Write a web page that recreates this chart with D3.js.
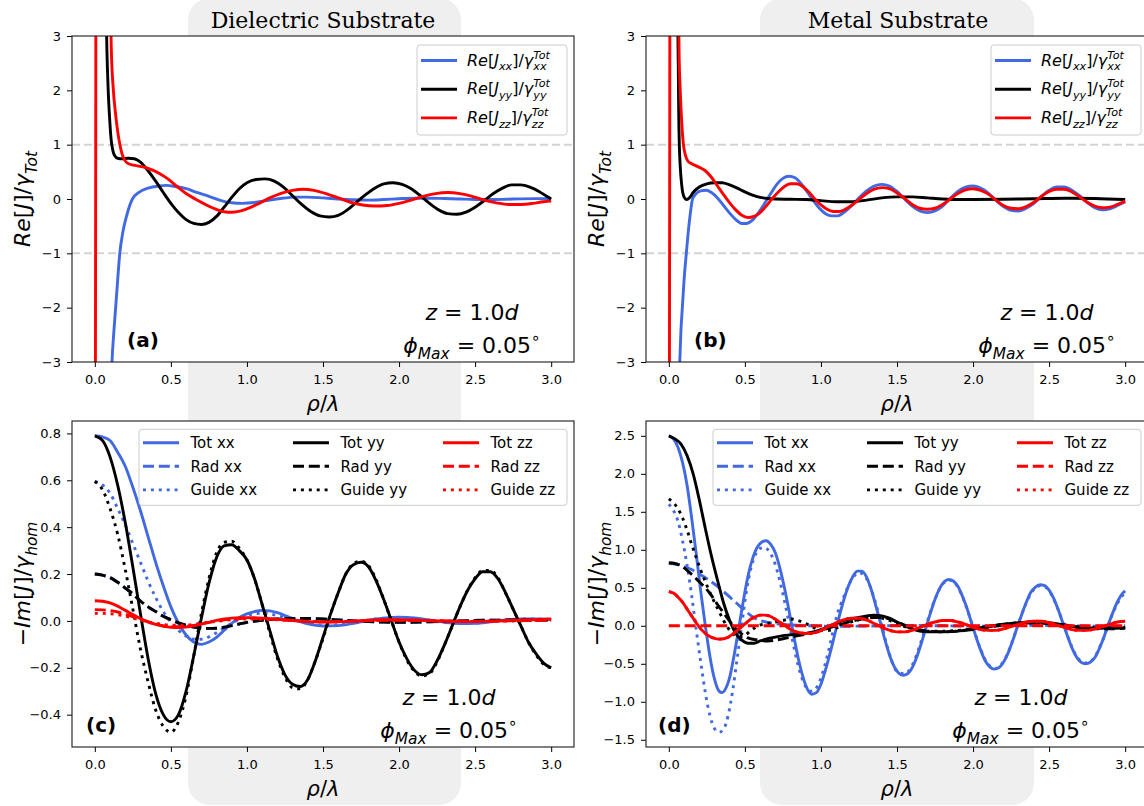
<!DOCTYPE html>
<html lang="en">
<head>
<meta charset="UTF-8">
<script src="https://cdnjs.cloudflare.com/ajax/libs/d3/7.8.5/d3.min.js"></script>
<title>Re / Im of J near a substrate</title>
<style>
  body { margin: 0; background: #fff; }
  svg text { font-family: 'DejaVu Sans', sans-serif; }
  svg text.title { font-family: 'DejaVu Serif', serif; }
</style>
</head>
<body>
<svg id="chart" width="1144" height="806"></svg>
<script>
// ---- ticks ----
const xTicks = [0, 0.5, 1, 1.5, 2, 2.5, 3];
const yTicksRe = [-3, -2, -1, 0, 1, 2, 3];
const yTicksDiel = [-0.4, -0.2, 0, 0.2, 0.4, 0.6, 0.8];
const yTicksMetal = [-1.5, -1, -0.5, 0, 0.5, 1, 1.5, 2, 2.5];
const refLevels = [-1, 1];

// ---- (a) dielectric, Re[J]/gamma_Tot ----
const a_xx = [[0.108,-3.4],[0.113,-3.0],[0.125,-2.45],[0.137,-2.0],[0.15,-1.5],[0.164,-1.0],[0.185,-0.6],[0.21,-0.3],[0.247,0.0],[0.29,0.12],[0.35,0.2],[0.42,0.24],[0.47,0.25],[0.53,0.23],[0.6,0.19],[0.67,0.12],[0.75,0.05],[0.83,-0.03],[0.9,-0.07],[0.97,-0.08],[1.05,-0.065],[1.13,-0.03],[1.22,0.01],[1.32,0.035],[1.4,0.035],[1.5,0.02],[1.6,0.0],[1.7,-0.015],[1.8,-0.02],[1.9,-0.01],[2.0,0.005],[2.1,0.015],[2.2,0.015],[2.3,0.008],[2.4,0.0],[2.5,-0.008],[2.6,-0.01],[2.7,-0.005],[2.8,0.003],[2.9,0.006],[3.0,0.004]];
const a_yy = [[0.075,3.4],[0.079,2.8],[0.088,2.0],[0.097,1.5],[0.107,1.1],[0.118,0.9],[0.13,0.8],[0.15,0.75],[0.18,0.74],[0.22,0.75],[0.26,0.74],[0.3,0.68],[0.35,0.52],[0.4,0.33],[0.45,0.12],[0.5,-0.08],[0.55,-0.25],[0.6,-0.38],[0.65,-0.45],[0.7,-0.47],[0.75,-0.43],[0.8,-0.32],[0.85,-0.15],[0.9,0.03],[0.95,0.19],[1.0,0.3],[1.06,0.36],[1.12,0.37],[1.18,0.33],[1.24,0.22],[1.3,0.06],[1.36,-0.1],[1.42,-0.23],[1.48,-0.31],[1.54,-0.33],[1.6,-0.3],[1.66,-0.2],[1.72,-0.06],[1.78,0.08],[1.84,0.2],[1.9,0.28],[1.96,0.3],[2.02,0.27],[2.08,0.19],[2.14,0.06],[2.2,-0.08],[2.26,-0.2],[2.32,-0.27],[2.38,-0.28],[2.44,-0.24],[2.5,-0.15],[2.56,-0.03],[2.62,0.1],[2.68,0.2],[2.74,0.26],[2.8,0.26],[2.86,0.22],[2.92,0.14],[2.97,0.05],[3.0,0.0]];
const a_zz = [[0.004,-3.4],[0.005,-1.0],[0.006,1.0],[0.007,3.4],[0.104,3.4],[0.108,2.8],[0.122,2.0],[0.135,1.6],[0.15,1.25],[0.165,1.0],[0.18,0.82],[0.2,0.7],[0.23,0.64],[0.28,0.61],[0.33,0.58],[0.38,0.53],[0.43,0.46],[0.48,0.37],[0.54,0.23],[0.6,0.1],[0.66,0.0],[0.72,-0.09],[0.78,-0.17],[0.85,-0.235],[0.9,-0.245],[0.96,-0.22],[1.02,-0.16],[1.08,-0.08],[1.15,0.02],[1.22,0.1],[1.3,0.16],[1.37,0.18],[1.44,0.16],[1.52,0.1],[1.6,0.02],[1.68,-0.06],[1.76,-0.11],[1.84,-0.13],[1.92,-0.12],[2.0,-0.08],[2.08,-0.02],[2.16,0.05],[2.24,0.1],[2.32,0.12],[2.4,0.1],[2.48,0.05],[2.56,-0.02],[2.64,-0.07],[2.72,-0.1],[2.8,-0.1],[2.88,-0.08],[2.95,-0.05],[3.0,-0.04]];

// ---- (b) metal, Re[J]/gamma_Tot ----
const b_xx = [[0.066,-3.4],[0.072,-3.0],[0.08,-2.4],[0.089,-2.0],[0.1,-1.5],[0.115,-1.0],[0.128,-0.6],[0.14,-0.3],[0.156,0.0],[0.18,0.1],[0.21,0.15],[0.245,0.16],[0.28,0.12],[0.32,0.02],[0.36,-0.12],[0.4,-0.26],[0.44,-0.38],[0.48,-0.45],[0.51,-0.45],[0.55,-0.39],[0.59,-0.25],[0.63,-0.08],[0.67,0.1],[0.71,0.27],[0.75,0.38],[0.79,0.42],[0.83,0.39],[0.87,0.28],[0.91,0.13],[0.95,-0.03],[0.99,-0.17],[1.03,-0.27],[1.07,-0.31],[1.11,-0.31],[1.15,-0.25],[1.2,-0.13],[1.25,0.02],[1.3,0.15],[1.35,0.24],[1.4,0.27],[1.45,0.24],[1.5,0.14],[1.55,0.0],[1.6,-0.13],[1.65,-0.22],[1.7,-0.25],[1.75,-0.22],[1.8,-0.13],[1.85,0.01],[1.9,0.14],[1.95,0.22],[2.0,0.24],[2.05,0.2],[2.1,0.11],[2.15,-0.02],[2.2,-0.14],[2.25,-0.21],[2.3,-0.22],[2.35,-0.17],[2.4,-0.08],[2.45,0.05],[2.5,0.16],[2.55,0.22],[2.6,0.22],[2.65,0.16],[2.7,0.06],[2.75,-0.06],[2.8,-0.16],[2.85,-0.2],[2.9,-0.18],[2.95,-0.12],[3.0,-0.05]];
const b_yy = [[0.058,3.4],[0.062,2.5],[0.065,1.6],[0.069,1.0],[0.075,0.6],[0.085,0.25],[0.1,0.04],[0.118,-0.01],[0.135,0.02],[0.16,0.12],[0.2,0.22],[0.25,0.28],[0.3,0.3],[0.35,0.3],[0.4,0.26],[0.45,0.2],[0.5,0.13],[0.55,0.07],[0.6,0.03],[0.65,0.01],[0.7,0.0],[0.8,-0.005],[0.9,-0.01],[1.0,-0.03],[1.1,-0.05],[1.2,-0.05],[1.3,-0.02],[1.4,0.02],[1.5,0.04],[1.6,0.04],[1.7,0.02],[1.8,0.0],[1.9,-0.01],[2.0,-0.01],[2.2,-0.005],[2.4,0.005],[2.6,0.015],[2.8,0.01],[3.0,-0.01]];
const b_zz = [[0.004,-3.4],[0.005,-1.0],[0.006,1.0],[0.007,3.4],[0.064,3.4],[0.068,2.6],[0.075,2.0],[0.085,1.4],[0.096,1.0],[0.11,0.8],[0.125,0.7],[0.15,0.65],[0.18,0.61],[0.21,0.57],[0.24,0.52],[0.28,0.4],[0.32,0.24],[0.36,0.08],[0.4,-0.07],[0.44,-0.2],[0.48,-0.3],[0.52,-0.34],[0.56,-0.32],[0.6,-0.25],[0.64,-0.13],[0.68,0.01],[0.72,0.13],[0.76,0.23],[0.8,0.28],[0.84,0.28],[0.88,0.23],[0.92,0.13],[0.96,0.0],[1.0,-0.11],[1.04,-0.19],[1.08,-0.23],[1.12,-0.23],[1.16,-0.19],[1.2,-0.12],[1.25,-0.01],[1.3,0.1],[1.35,0.18],[1.4,0.21],[1.45,0.19],[1.5,0.11],[1.55,0.01],[1.6,-0.1],[1.65,-0.17],[1.7,-0.19],[1.75,-0.17],[1.8,-0.1],[1.85,0.0],[1.9,0.1],[1.95,0.17],[2.0,0.19],[2.05,0.16],[2.1,0.09],[2.15,-0.02],[2.2,-0.12],[2.25,-0.17],[2.3,-0.18],[2.35,-0.14],[2.4,-0.06],[2.45,0.05],[2.5,0.14],[2.55,0.18],[2.6,0.18],[2.65,0.13],[2.7,0.04],[2.75,-0.06],[2.8,-0.13],[2.85,-0.16],[2.9,-0.15],[2.95,-0.1],[3.0,-0.04]];

// ---- (c) dielectric, -Im[J]/gamma_hom ----
const c_xx_tot = [[0,0.79],[0.05,0.785],[0.1,0.77],[0.15,0.72],[0.2,0.66],[0.25,0.57],[0.3,0.47],[0.35,0.36],[0.4,0.25],[0.45,0.15],[0.5,0.06],[0.55,-0.01],[0.6,-0.06],[0.65,-0.09],[0.7,-0.1],[0.75,-0.09],[0.8,-0.07],[0.85,-0.04],[0.9,-0.01],[0.95,0.015],[1.0,0.03],[1.05,0.04],[1.1,0.045],[1.15,0.043],[1.2,0.035],[1.25,0.023],[1.3,0.01],[1.35,-0.003],[1.4,-0.013],[1.5,-0.022],[1.6,-0.02],[1.7,-0.01],[1.8,0.003],[1.9,0.012],[2.0,0.016],[2.1,0.013],[2.2,0.004],[2.3,-0.006],[2.4,-0.011],[2.5,-0.01],[2.6,-0.004],[2.7,0.004],[2.8,0.008],[2.9,0.008],[3.0,0.006]];
const c_yy_rad = [[0,0.2],[0.05,0.195],[0.1,0.185],[0.15,0.165],[0.2,0.14],[0.25,0.115],[0.3,0.085],[0.35,0.06],[0.4,0.04],[0.45,0.02],[0.5,0.005],[0.55,-0.008],[0.6,-0.018],[0.65,-0.026],[0.7,-0.03],[0.75,-0.032],[0.8,-0.031],[0.85,-0.027],[0.9,-0.02],[0.95,-0.013],[1.0,-0.006],[1.1,0.003],[1.2,0.008],[1.3,0.01],[1.4,0.01],[1.5,0.008],[1.6,0.004],[1.7,0.0],[1.8,-0.003],[1.9,-0.005],[2.0,-0.006],[2.2,-0.004],[2.4,0.0],[2.6,0.003],[2.8,0.004],[3.0,0.003]];
const c_xx_rad = c_yy_rad; // the two in-plane radiative parts lie on top of each other
const c_xx_guide = [[0,0.595],[0.05,0.58],[0.1,0.545],[0.15,0.48],[0.2,0.41],[0.25,0.33],[0.3,0.25],[0.35,0.17],[0.4,0.1],[0.45,0.04],[0.5,-0.005],[0.55,-0.04],[0.6,-0.065],[0.65,-0.078],[0.7,-0.078],[0.75,-0.068],[0.8,-0.05],[0.85,-0.03],[0.9,-0.01],[0.95,0.008],[1.0,0.022],[1.05,0.03],[1.1,0.033],[1.15,0.03],[1.2,0.022],[1.3,0.005],[1.4,-0.01],[1.5,-0.018],[1.6,-0.016],[1.7,-0.007],[1.8,0.004],[1.9,0.012],[2.0,0.015],[2.1,0.011],[2.2,0.002],[2.3,-0.007],[2.4,-0.011],[2.5,-0.009],[2.6,-0.003],[2.7,0.004],[2.8,0.008],[2.9,0.008],[3.0,0.006]];
const c_yy_tot = [[0,0.79],[0.05,0.77],[0.1,0.7],[0.15,0.58],[0.2,0.42],[0.25,0.23],[0.3,0.03],[0.35,-0.16],[0.4,-0.31],[0.45,-0.4],[0.5,-0.43],[0.55,-0.4],[0.6,-0.3],[0.65,-0.15],[0.7,0.01],[0.75,0.16],[0.8,0.27],[0.85,0.32],[0.9,0.325],[0.95,0.3],[1.0,0.26],[1.05,0.18],[1.1,0.07],[1.15,-0.04],[1.2,-0.15],[1.25,-0.23],[1.3,-0.27],[1.35,-0.28],[1.4,-0.25],[1.45,-0.17],[1.5,-0.07],[1.55,0.03],[1.6,0.12],[1.65,0.2],[1.7,0.24],[1.75,0.25],[1.8,0.23],[1.85,0.17],[1.9,0.09],[1.95,0.0],[2.0,-0.09],[2.05,-0.16],[2.1,-0.21],[2.15,-0.23],[2.2,-0.22],[2.25,-0.17],[2.3,-0.1],[2.35,-0.02],[2.4,0.06],[2.45,0.13],[2.5,0.18],[2.55,0.21],[2.6,0.21],[2.65,0.18],[2.7,0.12],[2.75,0.05],[2.8,-0.02],[2.85,-0.09],[2.9,-0.14],[2.95,-0.18],[3.0,-0.2]];
const c_yy_guide = [[0,0.595],[0.05,0.56],[0.1,0.48],[0.15,0.37],[0.2,0.22],[0.25,0.05],[0.3,-0.12],[0.35,-0.26],[0.4,-0.38],[0.45,-0.45],[0.5,-0.475],[0.55,-0.43],[0.6,-0.32],[0.65,-0.15],[0.7,0.03],[0.75,0.18],[0.8,0.29],[0.85,0.335],[0.9,0.34],[0.95,0.31],[1.0,0.26],[1.05,0.18],[1.1,0.07],[1.15,-0.05],[1.2,-0.16],[1.25,-0.24],[1.3,-0.285],[1.35,-0.29],[1.4,-0.25],[1.45,-0.17],[1.5,-0.075],[1.55,0.03],[1.6,0.12],[1.65,0.2],[1.7,0.245],[1.75,0.255],[1.8,0.235],[1.85,0.175],[1.9,0.09],[1.95,0.0],[2.0,-0.09],[2.05,-0.165],[2.1,-0.215],[2.15,-0.235],[2.2,-0.225],[2.25,-0.175],[2.3,-0.1],[2.35,-0.02],[2.4,0.06],[2.45,0.13],[2.5,0.185],[2.55,0.215],[2.6,0.215],[2.65,0.185],[2.7,0.12],[2.75,0.05],[2.8,-0.02],[2.85,-0.09],[2.9,-0.145],[2.95,-0.185],[3.0,-0.2]];
const c_zz_tot = [[0,0.086],[0.05,0.084],[0.1,0.077],[0.15,0.063],[0.2,0.045],[0.25,0.027],[0.3,0.01],[0.35,-0.004],[0.4,-0.015],[0.45,-0.023],[0.5,-0.027],[0.55,-0.028],[0.6,-0.026],[0.65,-0.021],[0.7,-0.014],[0.75,-0.006],[0.8,0.002],[0.85,0.008],[0.9,0.012],[0.95,0.014],[1.0,0.014],[1.1,0.012],[1.2,0.007],[1.3,0.002],[1.4,-0.003],[1.5,-0.005],[1.6,-0.004],[1.7,-0.001],[1.8,0.003],[1.9,0.005],[2.0,0.005],[2.2,0.001],[2.4,-0.003],[2.6,-0.001],[2.8,0.004],[3.0,0.008]];
const c_zz_rad = [[0,0.048],[0.05,0.047],[0.1,0.044],[0.15,0.038],[0.2,0.029],[0.25,0.018],[0.3,0.007],[0.35,-0.004],[0.4,-0.013],[0.45,-0.02],[0.5,-0.024],[0.55,-0.025],[0.6,-0.023],[0.65,-0.019],[0.7,-0.013],[0.75,-0.006],[0.8,0.0],[0.9,0.008],[1.0,0.011],[1.1,0.01],[1.2,0.006],[1.3,0.002],[1.4,-0.002],[1.5,-0.004],[1.7,-0.001],[1.9,0.003],[2.1,0.003],[2.3,0.0],[2.5,-0.002],[2.7,0.0],[3.0,0.004]];
const c_zz_guide = [[0,0.032],[0.05,0.032],[0.1,0.031],[0.15,0.027],[0.2,0.02],[0.25,0.012],[0.3,0.004],[0.35,-0.004],[0.4,-0.01],[0.45,-0.015],[0.5,-0.018],[0.6,-0.018],[0.7,-0.01],[0.8,-0.002],[0.9,0.005],[1.0,0.008],[1.2,0.005],[1.4,-0.001],[1.6,-0.003],[1.8,0.001],[2.0,0.003],[2.3,0.0],[2.6,-0.001],[3.0,0.004]];

// ---- (d) metal, -Im[J]/gamma_hom ----
const d_xx_tot = [[0,2.5],[0.03,2.46],[0.06,2.35],[0.09,2.15],[0.12,1.85],[0.15,1.42],[0.18,0.95],[0.21,0.45],[0.24,0.0],[0.27,-0.4],[0.3,-0.7],[0.33,-0.86],[0.35,-0.88],[0.37,-0.84],[0.4,-0.68],[0.43,-0.38],[0.46,-0.03],[0.49,0.33],[0.52,0.65],[0.55,0.88],[0.58,1.03],[0.61,1.1],[0.64,1.12],[0.67,1.07],[0.7,0.96],[0.73,0.76],[0.76,0.5],[0.79,0.2],[0.82,-0.12],[0.85,-0.42],[0.88,-0.66],[0.91,-0.83],[0.94,-0.9],[0.97,-0.88],[1.0,-0.77],[1.03,-0.58],[1.06,-0.36],[1.09,-0.12],[1.12,0.12],[1.15,0.34],[1.18,0.52],[1.21,0.65],[1.24,0.72],[1.27,0.72],[1.3,0.64],[1.33,0.48],[1.36,0.27],[1.39,0.05],[1.42,-0.18],[1.45,-0.38],[1.48,-0.53],[1.51,-0.62],[1.54,-0.65],[1.57,-0.63],[1.6,-0.55],[1.63,-0.41],[1.66,-0.23],[1.69,-0.03],[1.72,0.17],[1.75,0.35],[1.78,0.49],[1.81,0.58],[1.84,0.61],[1.87,0.59],[1.9,0.52],[1.93,0.39],[1.96,0.23],[1.99,0.04],[2.02,-0.15],[2.05,-0.32],[2.08,-0.46],[2.11,-0.54],[2.14,-0.57],[2.17,-0.55],[2.2,-0.48],[2.23,-0.36],[2.26,-0.2],[2.29,-0.02],[2.32,0.15],[2.35,0.31],[2.38,0.44],[2.41,0.51],[2.44,0.54],[2.47,0.53],[2.5,0.47],[2.53,0.36],[2.56,0.21],[2.59,0.04],[2.62,-0.13],[2.65,-0.29],[2.68,-0.41],[2.71,-0.48],[2.74,-0.5],[2.77,-0.48],[2.8,-0.42],[2.83,-0.3],[2.86,-0.15],[2.89,0.02],[2.92,0.18],[2.95,0.32],[2.98,0.42],[3.0,0.46]];
const d_xx_rad = [[0,0.82],[0.05,0.81],[0.1,0.78],[0.15,0.74],[0.2,0.68],[0.25,0.62],[0.3,0.55],[0.35,0.47],[0.4,0.38],[0.45,0.29],[0.5,0.2],[0.55,0.12],[0.6,0.07],[0.65,0.045],[0.7,0.03],[0.8,0.012],[0.9,0.003],[1.0,-0.005],[1.2,-0.005],[1.4,0.0],[1.6,0.005],[1.8,0.0],[2.0,-0.005],[2.2,0.0],[2.4,0.005],[2.6,0.0],[2.8,-0.005],[3.0,0.0]];
const d_xx_guide = [[0,1.6],[0.03,1.52],[0.06,1.38],[0.09,1.12],[0.12,0.8],[0.15,0.4],[0.18,-0.05],[0.21,-0.48],[0.24,-0.88],[0.27,-1.18],[0.3,-1.35],[0.33,-1.4],[0.36,-1.36],[0.39,-1.18],[0.42,-0.85],[0.45,-0.42],[0.48,0.02],[0.51,0.45],[0.54,0.76],[0.57,0.94],[0.6,1.02],[0.63,1.03],[0.66,0.98],[0.69,0.86],[0.72,0.67],[0.75,0.42],[0.78,0.14],[0.81,-0.16],[0.84,-0.44],[0.87,-0.66],[0.9,-0.8],[0.93,-0.86],[0.96,-0.84],[0.99,-0.74],[1.02,-0.56],[1.05,-0.33],[1.08,-0.07],[1.1,0.1],[1.15,0.38],[1.2,0.6],[1.25,0.7],[1.3,0.62],[1.35,0.36],[1.4,0.0],[1.45,-0.37],[1.5,-0.6],[1.55,-0.63],[1.6,-0.52],[1.65,-0.26],[1.7,0.06],[1.75,0.35],[1.8,0.55],[1.85,0.6],[1.9,0.51],[1.95,0.28],[2.0,-0.02],[2.05,-0.31],[2.1,-0.51],[2.15,-0.56],[2.2,-0.47],[2.25,-0.25],[2.3,0.04],[2.35,0.3],[2.4,0.48],[2.45,0.53],[2.5,0.46],[2.55,0.26],[2.6,-0.01],[2.65,-0.28],[2.7,-0.45],[2.75,-0.49],[2.8,-0.41],[2.85,-0.2],[2.9,0.07],[2.95,0.3],[3.0,0.44]];
const d_yy_tot = [[0,2.5],[0.04,2.46],[0.08,2.39],[0.12,2.24],[0.16,2.0],[0.2,1.66],[0.24,1.28],[0.28,0.92],[0.32,0.6],[0.36,0.3],[0.4,0.07],[0.44,-0.1],[0.48,-0.19],[0.52,-0.23],[0.56,-0.23],[0.6,-0.2],[0.65,-0.17],[0.7,-0.15],[0.75,-0.13],[0.8,-0.12],[0.85,-0.11],[0.9,-0.1],[0.95,-0.08],[1.0,-0.05],[1.05,-0.01],[1.1,0.03],[1.15,0.07],[1.2,0.09],[1.25,0.11],[1.3,0.13],[1.35,0.14],[1.4,0.13],[1.45,0.1],[1.5,0.05],[1.55,0.0],[1.6,-0.04],[1.65,-0.07],[1.7,-0.08],[1.8,-0.08],[1.9,-0.07],[2.0,-0.04],[2.1,-0.01],[2.2,0.02],[2.3,0.04],[2.4,0.05],[2.5,0.04],[2.6,0.01],[2.7,-0.02],[2.8,-0.03],[2.9,-0.03],[3.0,-0.03]];
const d_yy_rad = [[0,0.83],[0.04,0.82],[0.08,0.79],[0.12,0.73],[0.16,0.66],[0.2,0.58],[0.24,0.5],[0.28,0.4],[0.32,0.28],[0.36,0.17],[0.4,0.06],[0.44,-0.04],[0.48,-0.11],[0.52,-0.16],[0.56,-0.18],[0.6,-0.19],[0.65,-0.2],[0.7,-0.19],[0.75,-0.17],[0.8,-0.15],[0.85,-0.13],[0.9,-0.11],[0.95,-0.09],[1.0,-0.06],[1.05,-0.03],[1.1,0.0],[1.15,0.03],[1.2,0.06],[1.25,0.08],[1.3,0.1],[1.35,0.11],[1.4,0.11],[1.45,0.09],[1.5,0.05],[1.55,0.01],[1.6,-0.03],[1.7,-0.07],[1.8,-0.08],[1.9,-0.07],[2.0,-0.05],[2.1,-0.02],[2.2,0.01],[2.3,0.03],[2.4,0.04],[2.5,0.03],[2.6,0.01],[2.7,-0.02],[2.8,-0.04],[2.9,-0.04],[3.0,-0.03]];
const d_yy_guide = [[0,1.67],[0.03,1.62],[0.06,1.54],[0.09,1.42],[0.12,1.26],[0.15,1.07],[0.18,0.9],[0.21,0.73],[0.24,0.58],[0.27,0.44],[0.3,0.31],[0.33,0.19],[0.36,0.07],[0.39,-0.03],[0.42,-0.1],[0.45,-0.14],[0.48,-0.14],[0.51,-0.11],[0.54,-0.06],[0.57,-0.02],[0.6,0.01],[0.65,0.03],[0.7,0.05],[0.75,0.07],[0.8,0.09],[0.85,0.07],[0.9,0.03],[0.95,-0.02],[1.0,-0.06],[1.05,-0.06],[1.1,-0.03],[1.15,0.01],[1.2,0.05],[1.25,0.08],[1.3,0.1],[1.35,0.11],[1.4,0.1],[1.45,0.07],[1.5,0.03],[1.55,-0.01],[1.6,-0.04],[1.7,-0.07],[1.8,-0.07],[1.9,-0.06],[2.0,-0.04],[2.1,-0.01],[2.2,0.02],[2.3,0.04],[2.4,0.04],[2.5,0.03],[2.6,0.0],[2.7,-0.02],[2.8,-0.03],[2.9,-0.03],[3.0,-0.02]];
const d_zz_tot = [[0,0.45],[0.03,0.43],[0.06,0.38],[0.09,0.31],[0.12,0.22],[0.15,0.13],[0.18,0.04],[0.21,-0.04],[0.24,-0.1],[0.27,-0.14],[0.3,-0.165],[0.33,-0.175],[0.36,-0.17],[0.39,-0.15],[0.42,-0.11],[0.45,-0.06],[0.48,-0.01],[0.51,0.04],[0.54,0.09],[0.57,0.12],[0.6,0.14],[0.63,0.14],[0.66,0.13],[0.69,0.1],[0.72,0.06],[0.75,0.02],[0.78,-0.02],[0.81,-0.06],[0.84,-0.08],[0.87,-0.095],[0.9,-0.1],[0.93,-0.1],[0.96,-0.09],[0.99,-0.07],[1.02,-0.04],[1.05,-0.01],[1.08,0.02],[1.11,0.05],[1.14,0.07],[1.17,0.09],[1.2,0.1],[1.23,0.1],[1.26,0.1],[1.29,0.08],[1.32,0.06],[1.35,0.03],[1.38,0.0],[1.41,-0.03],[1.44,-0.05],[1.47,-0.07],[1.5,-0.08],[1.55,-0.08],[1.6,-0.06],[1.65,-0.02],[1.7,0.02],[1.75,0.05],[1.8,0.07],[1.85,0.07],[1.9,0.05],[1.95,0.02],[2.0,-0.02],[2.05,-0.05],[2.1,-0.06],[2.15,-0.06],[2.2,-0.04],[2.25,-0.01],[2.3,0.02],[2.35,0.05],[2.4,0.06],[2.45,0.06],[2.5,0.04],[2.55,0.01],[2.6,-0.02],[2.65,-0.05],[2.7,-0.06],[2.75,-0.06],[2.8,-0.04],[2.85,-0.01],[2.9,0.02],[2.95,0.05],[3.0,0.06]];
const d_zz_rad = [[0,0],[0.5,0],[1,0],[1.5,0],[2,0],[2.5,0],[3,0]];
const d_zz_guide = d_zz_tot; // radiative zz part is zero, guided part equals the total

// ---- styling ----
const BLUE = '#4169e1', BLACK = '#000000', RED = '#ff0000';
const DASH = { solid: null, dashed: '11,4.8', dotted: '3,4.9' };
const LW = 2.9;
const W = 502, H = 326;
const xDomain = [-0.15, 3.15];

const svg = d3.select('#chart');

// pale rounded columns behind each figure column
[[188, 461], [760, 1034]].forEach(([x0, x1]) => {
  svg.append('rect').attr('x', x0).attr('y', -2).attr('width', x1 - x0).attr('height', 807)
    .attr('rx', 22).attr('fill', '#efefef');
});

// text with italic parts, sub- and superscripts
function mathText(parent, x, y, parts, size, anchor) {
  const t = parent.append('text').attr('x', x).attr('y', y)
    .attr('font-size', size).attr('text-anchor', anchor || 'start').attr('fill', '#000');
  let shift = 0, lastW = 0;
  parts.forEach(p => {
    const small = p.sub || p.sup;
    const off = p.sub ? size * 0.3 : p.sup ? -size * 0.42 : 0;
    const ts = t.append('tspan').text(p.t)
      .attr('font-size', small ? size * 0.7 : size)
      .attr('font-style', p.i ? 'italic' : 'normal')
      .attr('dy', off - shift);
    if (p.back) ts.attr('dx', -lastW);
    shift = off;
    lastW = ts.node().getComputedTextLength();
  });
  return t;
}

const reLabel = s => [{t:'Re', i:1}, {t:'['}, {t:'J', i:1}, {t:s, i:1, sub:1}, {t:']/'}, {t:'γ', i:1}, {t:'Tot', i:1, sup:1}, {t:s, i:1, sub:1, back:1}];
const reAxis = [{t:'Re', i:1}, {t:'['}, {t:'J', i:1}, {t:']/'}, {t:'γ', i:1}, {t:'Tot', i:1, sub:1}];
const imAxis = [{t:'−'}, {t:'Im', i:1}, {t:'['}, {t:'J', i:1}, {t:']/'}, {t:'γ', i:1}, {t:'hom', i:1, sub:1}];
const xAxisLabel = [{t:'ρ', i:1}, {t:'/'}, {t:'λ', i:1}];
const noteZ = [{t:'z', i:1}, {t:' = 1.0'}, {t:'d', i:1}];
const notePhi = [{t:'ϕ', i:1}, {t:'Max', i:1, sub:1}, {t:' = 0.05'}, {t:'∘', sup:1}];

const topSeries = (xx, yy, zz) => [
  {data: xx, color: BLUE, style: 'solid', label: reLabel('xx')},
  {data: yy, color: BLACK, style: 'solid', label: reLabel('yy')},
  {data: zz, color: RED, style: 'solid', label: reLabel('zz')}
];
const botSeries = (s) => [
  {data: s.xt, color: BLUE, style: 'solid', label: 'Tot xx'},
  {data: s.xr, color: BLUE, style: 'dashed', label: 'Rad xx'},
  {data: s.xg, color: BLUE, style: 'dotted', label: 'Guide xx'},
  {data: s.yt, color: BLACK, style: 'solid', label: 'Tot yy'},
  {data: s.yr, color: BLACK, style: 'dashed', label: 'Rad yy'},
  {data: s.yg, color: BLACK, style: 'dotted', label: 'Guide yy'},
  {data: s.zt, color: RED, style: 'solid', label: 'Tot zz'},
  {data: s.zr, color: RED, style: 'dashed', label: 'Rad zz'},
  {data: s.zg, color: RED, style: 'dotted', label: 'Guide zz'}
];

const panels = [
  {id: 'a', left: 72, top: 36, yDomain: [-3, 3], yTicks: yTicksRe, yFmt: d3.format('d'), refs: refLevels,
   yLabel: reAxis, series: topSeries(a_xx, a_yy, a_zz), legend: 'top', noteX: 400, tagX: 55, tag: '(a)'},
  {id: 'b', left: 646, top: 36, yDomain: [-3, 3], yTicks: yTicksRe, yFmt: d3.format('d'), refs: refLevels,
   yLabel: reAxis, series: topSeries(b_xx, b_yy, b_zz), legend: 'top', noteX: 401, tagX: 48, tag: '(b)'},
  {id: 'c', left: 72, top: 421, yDomain: [-0.538, 0.853], yTicks: yTicksDiel, yFmt: d3.format('.1f'), refs: [],
   yLabel: imAxis, legend: 'bottom', noteX: 377, tagX: 14, tag: '(c)',
   series: botSeries({xt: c_xx_tot, xr: c_xx_rad, xg: c_xx_guide, yt: c_yy_tot, yr: c_yy_rad, yg: c_yy_guide, zt: c_zz_tot, zr: c_zz_rad, zg: c_zz_guide})},
  {id: 'd', left: 646, top: 421, yDomain: [-1.595, 2.695], yTicks: yTicksMetal, yFmt: d3.format('.1f'), refs: [],
   yLabel: imAxis, legend: 'bottom', noteX: 375, tagX: 12, tag: '(d)',
   series: botSeries({xt: d_xx_tot, xr: d_xx_rad, xg: d_xx_guide, yt: d_yy_tot, yr: d_yy_rad, yg: d_yy_guide, zt: d_zz_tot, zr: d_zz_rad, zg: d_zz_guide})}
];

function legendSample(g, x0, yc, s) {
  g.append('line').attr('x1', x0).attr('x2', x0 + 36).attr('y1', yc).attr('y2', yc)
    .attr('stroke', s.color).attr('stroke-width', LW).attr('stroke-dasharray', DASH[s.style]);
}

function drawPanel(p) {
  const g = svg.append('g').attr('transform', `translate(${p.left},${p.top})`);
  const x = d3.scaleLinear().domain(xDomain).range([0, W]);
  const y = d3.scaleLinear().domain(p.yDomain).range([H, 0]);

  g.append('rect').attr('width', W).attr('height', H).attr('fill', '#fff');
  g.append('clipPath').attr('id', 'clip-' + p.id).append('rect').attr('width', W).attr('height', H);
  const plot = g.append('g').attr('clip-path', `url(#clip-${p.id})`);

  p.refs.forEach(v => {
    plot.append('line').attr('x1', 0).attr('x2', W).attr('y1', y(v)).attr('y2', y(v))
      .attr('stroke', '#d3d3d3').attr('stroke-width', 2).attr('stroke-dasharray', '8,4');
  });

  const line = d3.line().x(d => x(d[0])).y(d => y(d[1])).curve(d3.curveMonotoneX);
  p.series.forEach(s => {
    plot.append('path').attr('d', line(s.data)).attr('fill', 'none')
      .attr('stroke', s.color).attr('stroke-width', LW)
      .attr('stroke-dasharray', DASH[s.style]);
  });

  // axes
  const xa = g.append('g').attr('transform', `translate(0,${H})`)
    .call(d3.axisBottom(x).tickValues(xTicks).tickFormat(d3.format('.1f')).tickSize(5).tickPadding(8));
  const ya = g.append('g')
    .call(d3.axisLeft(y).tickValues(p.yTicks).tickFormat(p.yFmt).tickSize(5).tickPadding(6));
  [xa, ya].forEach(a => {
    a.select('.domain').remove();
    a.selectAll('text').attr('font-size', 13).attr('fill', '#000');
    a.selectAll('line').attr('stroke', '#000');
  });
  g.append('rect').attr('width', W).attr('height', H).attr('fill', 'none')
    .attr('stroke', '#1a1a1a').attr('stroke-width', 1.1);

  // axis labels
  mathText(g, W / 2, H + 49, xAxisLabel, 21, 'middle');
  const yl = g.append('g').attr('transform', `translate(-42,${H / 2}) rotate(-90)`);
  mathText(yl, 0, 0, p.yLabel, 22, 'middle');

  // annotations
  mathText(g, p.noteX, H - 42, noteZ, 22, 'middle');
  mathText(g, p.noteX, H - 9.5, notePhi, 22, 'middle');
  g.append('text').attr('x', p.tagX).attr('y', H - 15).attr('font-size', 20)
    .attr('font-weight', 'bold').text(p.tag);

  // legend
  const lg = g.append('g');
  if (p.legend === 'top') {
    const bx = W - 7 - 150, by = 9;
    lg.append('rect').attr('x', bx).attr('y', by).attr('width', 150).attr('height', 90).attr('rx', 3)
      .attr('fill', '#fff').attr('fill-opacity', 0.8).attr('stroke', '#cccccc');
    p.series.forEach((s, i) => {
      const yc = by + 15.5 + i * 28.7;
      legendSample(lg, bx + 4, yc, s);
      mathText(lg, bx + 50, yc + 5, s.label, 16, 'start');
    });
  } else {
    const bw = 428, bx = W - 7 - bw, by = 8.3;
    lg.append('rect').attr('x', bx).attr('y', by).attr('width', bw).attr('height', 76).attr('rx', 3)
      .attr('fill', '#fff').attr('fill-opacity', 0.8).attr('stroke', '#cccccc');
    p.series.forEach((s, i) => {
      const col = Math.floor(i / 3), row = i % 3;
      const x0 = bx + 4 + col * 150, yc = by + 13.4 + row * 23.6;
      legendSample(lg, x0, yc, s);
      lg.append('text').attr('x', x0 + 47.5).attr('y', yc + 5.4).attr('font-size', 15).text(s.label);
    });
  }
}

panels.forEach(drawPanel);

// column titles
svg.append('text').attr('class', 'title').attr('x', 323).attr('y', 28).attr('text-anchor', 'middle')
  .attr('font-size', 22).text('Dielectric Substrate');
svg.append('text').attr('class', 'title').attr('x', 898).attr('y', 28).attr('text-anchor', 'middle')
  .attr('font-size', 22).text('Metal Substrate');
</script>
</body>
</html>
